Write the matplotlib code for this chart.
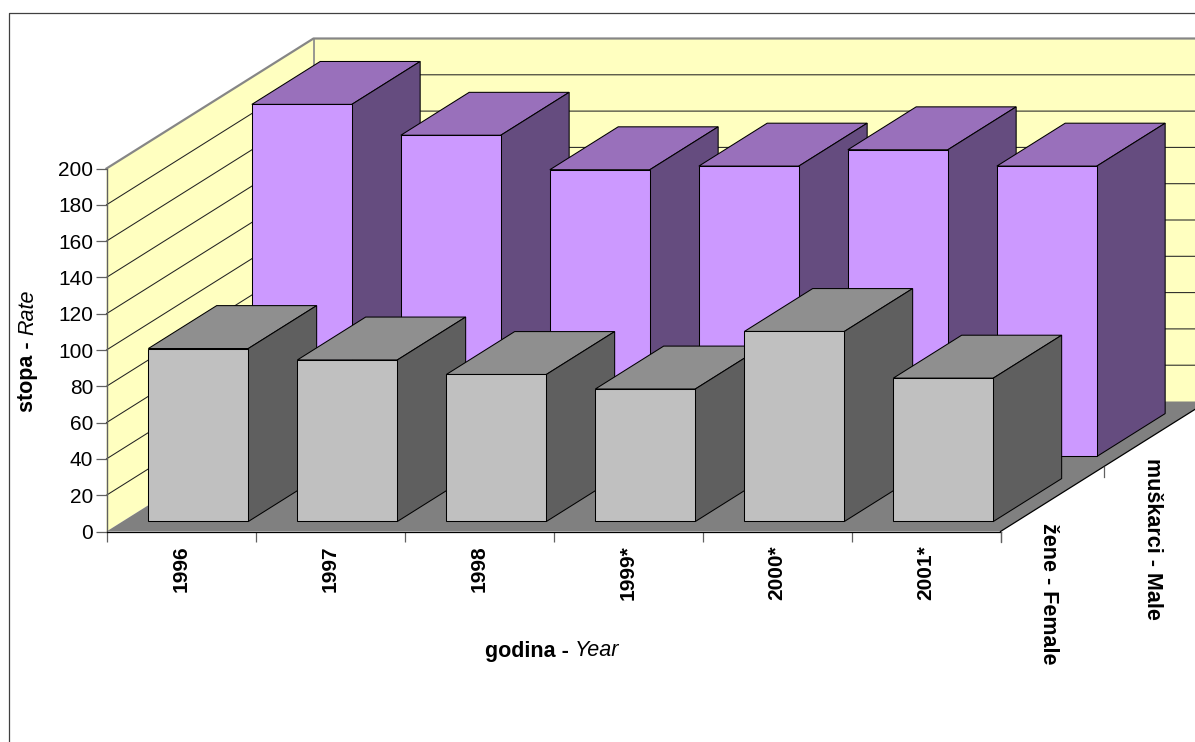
import matplotlib
matplotlib.use("Agg")
import matplotlib.pyplot as plt
from matplotlib.patches import Polygon
from matplotlib.lines import Line2D

plt.rcParams['font.family'] = ['Liberation Sans', 'DejaVu Sans']

years = ['1996', '1997', '1998', '1999*', '2000*', '2001*']
female = [95.3, 89, 81, 73, 104.7, 79]
male = [194, 177, 158, 160, 169, 160]
series_labels = ['žene - Female', 'muškarci - Male']
y_ticks = list(range(0, 201, 20))

W, H = 1195, 742
fig = plt.figure(figsize=(W / 100, H / 100), dpi=100, facecolor='white')
ax = fig.add_axes([106.5 / W, (H - 531.5) / H, 894 / W, 363 / H])
ax.set_xlim(0, 6)
ax.set_ylim(0, 200)
ax.patch.set_visible(False)

# oblique projection: one series row moves this much in data units
ROW_DX = 103.5 / 149
ROW_DY = 65 / 1.815
N_ROWS = 2
BAR_X0, BAR_W = 0.174, 0.671
BAR_Z0, BAR_D = 0.154, 0.66


def P(x, y, z):
    return (x + z * ROW_DX, y + z * ROW_DY)


def face(pts, fc, ec='black', lw=0.75, z=1.0):
    ax.add_patch(Polygon([P(*p) for p in pts], closed=True, facecolor=fc, edgecolor=ec,
                         linewidth=lw, clip_on=False, zorder=z, joinstyle='miter'))


WALL = '#FFFFC0'
BORDER = '#868686'
xmax, ymax, zmax = len(years), y_ticks[-1], N_ROWS
# walls and floor
face([(0, 0, zmax), (xmax, 0, zmax), (xmax, ymax, zmax), (0, ymax, zmax)], WALL, 'none', 0, 0.5)
face([(0, 0, 0), (0, 0, zmax), (0, ymax, zmax), (0, ymax, 0)], WALL, 'none', 0, 0.5)
face([(0, 0, 0), (xmax, 0, 0), (xmax, 0, zmax), (0, 0, zmax)], '#808080', 'none', 0, 0.6)

# gridlines
for v in y_ticks[1:-1]:
    xs, ys = zip(P(0, v, 0), P(0, v, zmax), P(xmax, v, zmax))
    ax.plot(xs, ys, color='#222222', lw=0.75, clip_on=False, zorder=0.7)
# wall edges
xs, ys = zip(P(0, ymax, 0), P(0, ymax, zmax), P(xmax, ymax, zmax))
ax.plot(xs, ys, color=BORDER, lw=1.6, clip_on=False, zorder=0.8)
xs, ys = zip(P(0, 0, zmax), P(0, ymax, zmax))
ax.plot(xs, ys, color=BORDER, lw=1.2, clip_on=False, zorder=0.75)
# floor front-right edge
xs, ys = zip(P(xmax, 0, 0), P(xmax, 0, zmax))
ax.plot(xs, ys, color='black', lw=0.9, clip_on=False, zorder=0.9)

z = 1.0
def draw_row(values, row, front, top, side):
    global z
    for i, v in enumerate(values):
        x0, x1 = i + BAR_X0, i + BAR_X0 + BAR_W
        z0, z1 = row + BAR_Z0, row + BAR_Z0 + BAR_D
        face([(x0, v, z0), (x1, v, z0), (x1, v, z1), (x0, v, z1)], top, z=z)
        face([(x1, 0, z0), (x1, 0, z1), (x1, v, z1), (x1, v, z0)], side, z=z + 0.1)
        face([(x0, 0, z0), (x1, 0, z0), (x1, v, z0), (x0, v, z0)], front, z=z + 0.2)
        z += 0.3


draw_row(male, 1, '#CC99FF', '#9970BB', '#654C7F')
draw_row(female, 0, '#C0C0C0', '#8F8F8F', '#5F5F5F')

# axes
for s in ('top', 'right'):
    ax.spines[s].set_visible(False)
ax.spines['left'].set_color('#606060')
ax.spines['left'].set_linewidth(1.0)
ax.spines['bottom'].set_color('black')
ax.spines['bottom'].set_linewidth(0.9)
ax.spines['left'].set_zorder(20)
ax.spines['bottom'].set_zorder(20)

ax.set_yticks(y_ticks)
ax.tick_params(axis='y', length=8, width=0.9, color='#606060', labelsize=15, pad=1.5)
ax.set_xticks(range(xmax + 1))
ax.set_xticklabels([])
ax.tick_params(axis='x', which='major', length=7.5, width=0.9, color='#606060')
ax.set_xticks([i + 0.5 for i in range(xmax)], minor=True)
ax.set_xticklabels(years, minor=True, rotation=90, fontweight='bold', fontsize=15)
ax.tick_params(axis='x', which='minor', length=0, pad=10)
for lab in ax.get_xticklabels(minor=True):
    lab.set_ha('center')
    lab.set_va('top')

# depth ticks and series labels
tick_px = 10
for r, lab in enumerate(series_labels):
    xd, yd = P(xmax, 0, r)
    px, py = ax.transData.transform((xd, yd))
    fig.add_artist(Line2D([px / W, px / W], [py / H, (py - tick_px) / H], color='#606060', lw=0.9))
    ax.text(xd + 0.323, yd + 4.6, lab, rotation=270, ha='center', va='top', fontsize=15.5, fontweight='bold',
            clip_on=False)

# axis titles as bold + italic pairs
fig.canvas.draw()
rend = fig.canvas.get_renderer()

t1 = fig.text(485 / W, 1 - 651 / H, 'godina - ', fontsize=15.5, fontweight='bold', ha='left', va='center')
ext = t1.get_window_extent(rend)
fig.text(ext.x1 / W, 1 - 651 / H, 'Year', fontsize=15.5, style='italic', ha='left', va='center')

t2 = fig.text(28 / W, 1 - 412 / H, 'stopa - ', fontsize=15.5, fontweight='bold', rotation=90, ha='center', va='bottom')
ext = t2.get_window_extent(rend)
fig.text(28 / W, ext.y1 / H, 'Rate', fontsize=15.5, style='italic', rotation=90, ha='center', va='bottom')

# chart frame, running off the picture
fig.add_artist(Line2D([8.5 / W, 8.5 / W, 1.0], [0, 1 - 12.5 / H, 1 - 12.5 / H], color='#404040', lw=0.9))

fig.savefig('out.png', dpi=100)
